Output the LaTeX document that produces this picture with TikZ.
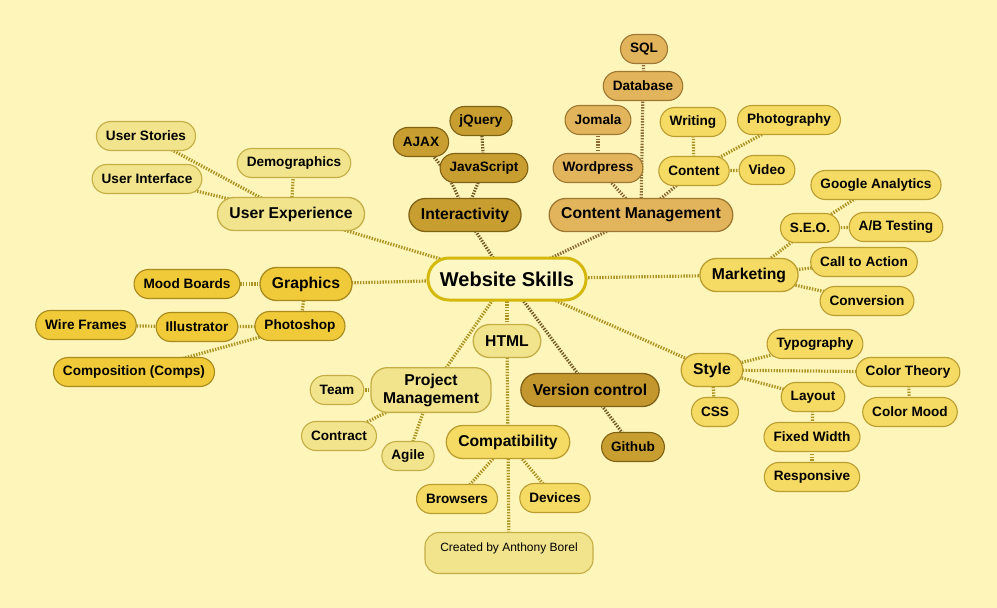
\documentclass[tikz,border=0pt]{standalone}
\usepackage{fontspec}
\setmainfont{Liberation Sans}
\usetikzlibrary{backgrounds}

\definecolor{paper}{RGB}{253,245,186}
\definecolor{hubfill}{RGB}{253,247,196}
\definecolor{hubline}{RGB}{212,184,12}
\definecolor{palefill}{RGB}{242,228,140}
\definecolor{paleline}{RGB}{196,174,70}
\definecolor{goldfill}{RGB}{240,202,56}
\definecolor{goldline}{RGB}{168,138,30}
\definecolor{darkfill}{RGB}{201,158,48}
\definecolor{darkline}{RGB}{128,98,22}
\definecolor{tanfill}{RGB}{226,180,92}
\definecolor{tanline}{RGB}{158,120,50}
\definecolor{sunfill}{RGB}{245,218,100}
\definecolor{sunline}{RGB}{188,158,48}
\definecolor{vcsfill}{RGB}{196,150,46}
\definecolor{linkgold}{RGB}{172,146,30}
\definecolor{linkdark}{RGB}{112,88,36}
\definecolor{linktan}{RGB}{138,106,50}

\newcommand\leaffont{\fontsize{13.6}{15}\selectfont\bfseries}
\newcommand\branchfont{\fontsize{15.7}{18}\selectfont\bfseries}
\newcommand\hubfont{\fontsize{20}{22}\selectfont\bfseries}

\begin{document}
\begin{tikzpicture}[x=1pt,y=-1pt,
    leaf/.style={draw, rounded corners=14.5pt, minimum height=29pt,
      inner xsep=9.5pt, inner ysep=0pt, line width=1.1pt, font=\leaffont},
    branch/.style={draw, rounded corners=16.5pt, minimum height=33pt,
      inner xsep=12pt, inner ysep=0pt, line width=1.3pt, font=\branchfont},
    pale/.style={fill=palefill, draw=paleline},
    gold/.style={fill=goldfill, draw=goldline},
    dark/.style={fill=darkfill, draw=darkline},
    tan/.style={fill=tanfill, draw=tanline},
    sun/.style={fill=sunfill, draw=sunline},
    link/.style={line width=3.2pt, dash pattern=on 1.4pt off 1.4pt, color=linkgold}]
  \useasboundingbox (0,0) rectangle (997,608);

  % centre
  \node[draw=hubline, fill=hubfill, line width=3pt, rounded corners=21pt,
    minimum height=42pt, inner xsep=12pt, inner ysep=0pt, font=\hubfont] (hub) at (507,279) {Website Skills};
  \node[branch, pale] (html) at (507,341) {HTML};

  % user experience
  \node[branch, pale] (ux) at (291,214) {User Experience};
  \node[leaf, pale] (stories) at (146,136) {User Stories};
  \node[leaf, pale] (demo) at (294,163) {Demographics};
  \node[leaf, pale] (uiface) at (147,179) {User Interface};

  % graphics
  \node[branch, gold] (gfx) at (306,284) {Graphics};
  \node[leaf, gold] (mood) at (187,284) {Mood Boards};
  \node[leaf, gold] (pshop) at (300,326) {Photoshop};
  \node[leaf, gold] (illus) at (197,327) {Illustrator};
  \node[leaf, gold] (wire) at (86,325) {Wire Frames};
  \node[leaf, gold] (comps) at (134,372) {Composition (Comps)};

  % interactivity
  \node[branch, dark] (interact) at (465,215) {Interactivity};
  \node[leaf, dark] (ajax) at (421,142) {AJAX};
  \node[leaf, dark] (jquery) at (481,121) {jQuery};
  \node[leaf, dark] (js) at (484,168) {JavaScript};

  % content management
  \node[branch, tan] (cms) at (641,215) {Content Management};
  \node[leaf, tan] (wp) at (598,168) {Wordpress};
  \node[leaf, tan] (jomala) at (598,120) {Jomala};
  \node[leaf, tan] (db) at (643,86) {Database};
  \node[leaf, tan] (sql) at (644,49) {SQL};
  \node[leaf, sun] (content) at (694,171) {Content};
  \node[leaf, sun] (writing) at (693,122) {Writing};
  \node[leaf, sun] (photo) at (789,120) {Photography};
  \node[leaf, sun] (video) at (767,170) {Video};

  % marketing
  \node[branch, sun] (mkt) at (749,275) {Marketing};
  \node[leaf, sun] (seo) at (810,228) {S.E.O.};
  \node[leaf, sun] (ga) at (876,185) {Google Analytics};
  \node[leaf, sun] (ab) at (896,227) {A/B Testing};
  \node[leaf, sun] (cta) at (864,262) {Call to Action};
  \node[leaf, sun] (conv) at (867,301) {Conversion};

  % style
  \node[branch, sun] (style) at (712,370) {Style};
  \node[leaf, sun] (css) at (715,412) {CSS};
  \node[leaf, sun] (typo) at (815,344) {Typography};
  \node[leaf, sun] (ctheory) at (908,372) {Color Theory};
  \node[leaf, sun] (cmood) at (910,412) {Color Mood};
  \node[leaf, sun] (layout) at (813,397) {Layout};
  \node[leaf, sun] (fixed) at (812,437) {Fixed Width};
  \node[leaf, sun] (resp) at (812,477) {Responsive};

  % version control
  \node[branch, fill=vcsfill, draw=darkline] (vcs) at (590,390) {Version control};
  \node[leaf, dark] (github) at (633,447) {Github};

  % project management
  \node[branch, pale, align=center, inner ysep=6pt] (pm) at (431,390) {Project\\Management};
  \node[leaf, pale] (team) at (337,390) {Team};
  \node[leaf, pale] (contract) at (339,436) {Contract};
  \node[leaf, pale] (agile) at (408,456) {Agile};

  % compatibility
  \node[branch, sun] (compat) at (508,442) {Compatibility};
  \node[leaf, sun] (browsers) at (457,499) {Browsers};
  \node[leaf, sun] (devices) at (555,498) {Devices};

  \node[draw=paleline, fill=palefill, line width=1.1pt, rounded corners=14pt,
    minimum width=168pt, inner ysep=4pt, text height=15pt, text depth=18pt,
    font=\fontsize{12}{14}\selectfont] (credit) at (509,553) {Created by Anthony Borel};

  \begin{scope}[on background layer]
    \fill[paper] (0,0) rectangle (997,608);
    \path[link]
      (hub.center) edge (html.center)
      (hub.center) edge (ux.center)
      (hub.center) edge (gfx.center)
      (hub.center) edge[linkdark] (interact.center)
      (hub.center) edge[linktan] (cms.center)
      (hub.center) edge (mkt.center)
      (hub.center) edge (style.center)
      (hub.center) edge[linkdark] (vcs.center)
      (hub.center) edge (pm.center)
      (html.center) edge (compat.center)
      (compat.center) edge (credit.center)
      (ux.center) edge (stories.center)
      (ux.center) edge (demo.center)
      (ux.center) edge (uiface.center)
      (gfx.center) edge (mood.center)
      (gfx.center) edge (pshop.center)
      (pshop.center) edge (illus.center)
      (illus.center) edge (wire.center)
      (pshop.center) edge (comps.center)
      (interact.center) edge[linkdark, bend right=12] (ajax.center)
      (interact.center) edge[linkdark] (js.center)
      (js.center) edge[linkdark] (jquery.center)
      (cms.center) edge[linktan] (wp.center)
      (wp.center) edge[linktan] (jomala.center)
      (cms.center) edge[linktan] (db.center)
      (db.center) edge[linktan] (sql.center)
      (cms.center) edge[linktan] (content.center)
      (content.center) edge (writing.center)
      (content.center) edge (photo.center)
      (content.center) edge (video.center)
      (mkt.center) edge (seo.center)
      (seo.center) edge (ga.center)
      (seo.center) edge (ab.center)
      (mkt.center) edge (cta.center)
      (mkt.center) edge (conv.center)
      (style.center) edge (css.center)
      (style.center) edge (typo.center)
      (style.center) edge (ctheory.center)
      (ctheory.center) edge (cmood.center)
      (style.center) edge (layout.center)
      (layout.center) edge (fixed.center)
      (fixed.center) edge (resp.center)
      (vcs.center) edge[linkdark] (github.center)
      (pm.center) edge (team.center)
      (pm.center) edge (contract.center)
      (pm.center) edge (agile.center)
      (compat.center) edge (browsers.center)
      (compat.center) edge (devices.center);
  \end{scope}
\end{tikzpicture}
\end{document}
